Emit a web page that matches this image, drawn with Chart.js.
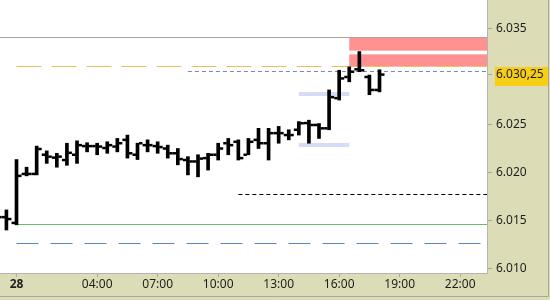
<!DOCTYPE html>
<html>
<head>
<meta charset="utf-8">
<script src="https://cdn.jsdelivr.net/npm/chart.js@4.4.1/dist/chart.umd.min.js"></script>
<style>
  html, body { margin: 0; padding: 0; background: #dcdcb6; }
</style>
</head>
<body>
<canvas id="chart" width="550" height="300"></canvas>
<script>
// 30 minute bars, time in hours from the 28th 00:00 (negative = evening before)
const barTimes = [-1, -0.5, 0, 0.5, 1, 1.5, 2, 2.5, 3, 3.5, 4, 4.5, 5, 5.5, 6, 6.5, 7, 7.5, 8, 8.5,
  9, 9.5, 10, 10.5, 11, 11.5, 12, 12.5, 13, 13.5, 14, 14.5, 15, 15.5, 16, 16.5, 17, 17.5, 18];
const openValues = [6015.4, 6015.4, 6014.8, 6019.9, 6019.9, 6021.9, 6021.6, 6021.35, 6021.9, 6022.8,
  6022.8, 6022.6, 6022.75, 6023.45, 6021.9, 6022.9, 6022.8, 6022.55, 6022.05, 6021.35,
  6021.2, 6021.55, 6021.9, 6023.1, 6023.25, 6021.9, 6023.45, 6023.1, 6024.15, 6023.95,
  6024.5, 6025.2, 6025.0, 6024.65, 6027.8, 6030.0, 6030.8, 6030.0, 6028.65];
const highValues = [6015.8, 6016.15, 6021.4, 6020.6, 6022.8, 6022.3, 6022.05, 6023.1, 6023.35, 6023.15,
  6023.1, 6023.25, 6023.6, 6023.95, 6023.1, 6023.45, 6023.25, 6022.9, 6022.55, 6021.7,
  6021.9, 6022.05, 6023.1, 6023.6, 6023.45, 6023.6, 6024.65, 6024.65, 6024.85, 6024.5,
  6025.35, 6025.5, 6025.15, 6028.65, 6030.7, 6031.05, 6032.65, 6030.2, 6030.75];
const lowValues = [6015.0, 6014.06, 6014.6, 6019.7, 6019.8, 6021.0, 6020.6, 6020.8, 6021.0, 6022.2,
  6021.9, 6022.05, 6022.2, 6021.55, 6021.4, 6022.2, 6022.05, 6021.55, 6020.85, 6019.8,
  6019.6, 6020.3, 6021.35, 6021.9, 6021.35, 6021.9, 6022.55, 6021.35, 6023.1, 6023.45,
  6023.95, 6023.1, 6023.6, 6024.5, 6027.6, 6029.5, 6030.55, 6028.15, 6028.45];
const closeValues = [6015.4, 6015.2, 6019.7, 6019.9, 6022.5, 6021.7, 6021.7, 6022.1, 6022.9, 6022.8,
  6022.75, 6022.9, 6023.1, 6022.05, 6023.1, 6022.9, 6022.7, 6022.05, 6021.45, 6021.2,
  6021.5, 6021.9, 6022.55, 6022.9, 6021.55, 6023.25, 6023.1, 6024.15, 6024.15, 6023.95,
  6025.18, 6025.0, 6024.65, 6027.9, 6029.85, 6030.55, 6030.7, 6028.65, 6030.25];

const lastPrice = 6030.25;

// horizontal levels: value and the hour they start at
const levelValues = [6034.14, 6031.15, 6030.6, 6017.8, 6014.65, 6012.75];
const levelStarts = [-1, 0, 8.5, 11, 0, 0];

// light blue range marks
const rangeValues = [6028.23, 6022.92];
const rangeFrom = 14;
const rangeTo = 16.5;

// red zones (top, bottom), starting at 16:30
const zoneTops = [6034.14, 6032.36];
const zoneBottoms = [6032.74, 6031.07];
const zoneStart = 16.5;

const xTickValues = [0, 4, 7, 10, 13, 16, 19, 22];
const xTickLabels = ['28', '04:00', '07:00', '10:00', '13:00', '16:00', '19:00', '22:00'];
const yTickValues = [6010, 6015, 6020, 6025, 6030.25, 6035];
const yTickLabels = ['6.010', '6.015', '6.020', '6.025', '6.030,25', '6.035'];

const levelStyles = [
  { color: '#a6a6a6', dash: [] },
  { color: '#e8c15c', dash: [25, 10] },
  { color: '#6f8cbd', dash: [4, 3] },
  { color: '#000000', dash: [4, 3] },
  { color: '#6cbb6c', dash: [] },
  { color: '#5f86c4', dash: [22, 12] }
];

const khaki = '#dcdcb6';

const overlay = {
  id: 'overlay',
  beforeDraw(chart) {
    const { ctx, chartArea: a, width, height } = chart;
    ctx.save();
    ctx.fillStyle = khaki;
    ctx.fillRect(0, 0, width, height);
    ctx.fillStyle = '#ffffff';
    ctx.fillRect(a.left, a.top, a.right - a.left, a.bottom - a.top);
    // last price tag behind its tick label
    const y = Math.round(chart.scales.y.getPixelForValue(lastPrice));
    ctx.fillStyle = '#f6cd17';
    ctx.fillRect(a.right + 8, y - 8, width - a.right - 10, 19);
    // outer frame
    ctx.strokeStyle = '#a8a898';
    ctx.lineWidth = 1;
    ctx.beginPath();
    ctx.moveTo(width - 1.5, 0);
    ctx.lineTo(width - 1.5, height - 3.5);
    ctx.lineTo(0, height - 3.5);
    ctx.stroke();
    ctx.restore();
  },
  beforeDatasetsDraw(chart) {
    const { ctx, chartArea: a, scales: { x, y } } = chart;
    ctx.save();
    ctx.beginPath();
    ctx.rect(a.left, a.top, a.right - a.left, a.bottom - a.top);
    ctx.clip();

    // red zones
    ctx.fillStyle = '#ff9191';
    const zx = x.getPixelForValue(zoneStart);
    zoneTops.forEach((top, i) => {
      const y0 = y.getPixelForValue(top);
      const y1 = y.getPixelForValue(zoneBottoms[i]);
      ctx.fillRect(zx, y0, a.right - zx, y1 - y0);
    });

    // range marks
    ctx.strokeStyle = '#d6dcf5';
    ctx.lineWidth = 4;
    rangeValues.forEach(v => {
      const py = Math.round(y.getPixelForValue(v));
      ctx.beginPath();
      ctx.moveTo(x.getPixelForValue(rangeFrom), py);
      ctx.lineTo(x.getPixelForValue(rangeTo), py);
      ctx.stroke();
    });

    // levels
    ctx.lineWidth = 1;
    levelValues.forEach((v, i) => {
      const py = Math.round(y.getPixelForValue(v)) + 0.5;
      ctx.strokeStyle = levelStyles[i].color;
      ctx.setLineDash(levelStyles[i].dash);
      ctx.beginPath();
      ctx.moveTo(Math.max(a.left, x.getPixelForValue(levelStarts[i])), py);
      ctx.lineTo(a.right, py);
      ctx.stroke();
    });
    ctx.restore();
  },
  afterDatasetsDraw(chart) {
    const { ctx, chartArea: a, scales: { y } } = chart;
    const meta = chart.getDatasetMeta(0);
    ctx.save();
    ctx.beginPath();
    ctx.rect(a.left, a.top, a.right - a.left, a.bottom - a.top);
    ctx.clip();
    ctx.fillStyle = '#000000';
    meta.data.forEach((bar, i) => {
      const bx = bar.x;
      const yo = y.getPixelForValue(openValues[i]);
      const yc = y.getPixelForValue(closeValues[i]);
      ctx.fillRect(bx - 5, yo - 1.25, 3.5, 2.5);
      ctx.fillRect(bx + 1.5, yc - 1.25, 3.5, 2.5);
    });
    ctx.restore();
  }
};

const tickFont = ctx => ({
  family: "'Noto Sans', sans-serif",
  size: 12,
  weight: ctx.tick && ctx.tick.value === 0 ? 'bold' : 'normal'
});

new Chart(document.getElementById('chart'), {
  type: 'bar',
  data: {
    datasets: [{
      data: barTimes.map((t, i) => ({ x: t, y: [lowValues[i], highValues[i]] })),
      backgroundColor: '#000000',
      borderWidth: 0,
      barThickness: 3
    }]
  },
  options: {
    responsive: false,
    devicePixelRatio: 1,
    animation: false,
    layout: { padding: 0 },
    plugins: {
      legend: { display: false },
      tooltip: { enabled: false }
    },
    scales: {
      x: {
        type: 'linear',
        offset: false,
        min: -0.818,
        max: 23.33,
        afterBuildTicks: s => { s.ticks = xTickValues.map(v => ({ value: v })); },
        afterFit: s => { s.height = 27; s.paddingLeft = 0; s.paddingRight = 0; },
        grid: { drawOnChartArea: false, tickLength: 4, color: '#a8a8a0', offset: false },
        border: { display: true, color: '#b4b4b4' },
        ticks: {
          autoSkip: false,
          maxRotation: 0,
          padding: 0,
          color: '#1e1e1e',
          font: tickFont,
          callback: v => xTickLabels[xTickValues.indexOf(v)]
        }
      },
      y: {
        position: 'right',
        min: 6009.58,
        max: 6038.02,
        afterBuildTicks: s => { s.ticks = yTickValues.map(v => ({ value: v })); },
        afterFit: s => { s.width = 63; s.paddingTop = 0; s.paddingBottom = 0; },
        grid: { drawOnChartArea: false, tickLength: 5, color: '#a8a8a0' },
        border: { display: true, color: '#b4b4b4' },
        ticks: {
          autoSkip: false,
          padding: 4,
          color: '#1e1e1e',
          font: tickFont,
          callback: v => yTickLabels[yTickValues.indexOf(v)]
        }
      }
    }
  },
  plugins: [overlay]
});
</script>
</body>
</html>
